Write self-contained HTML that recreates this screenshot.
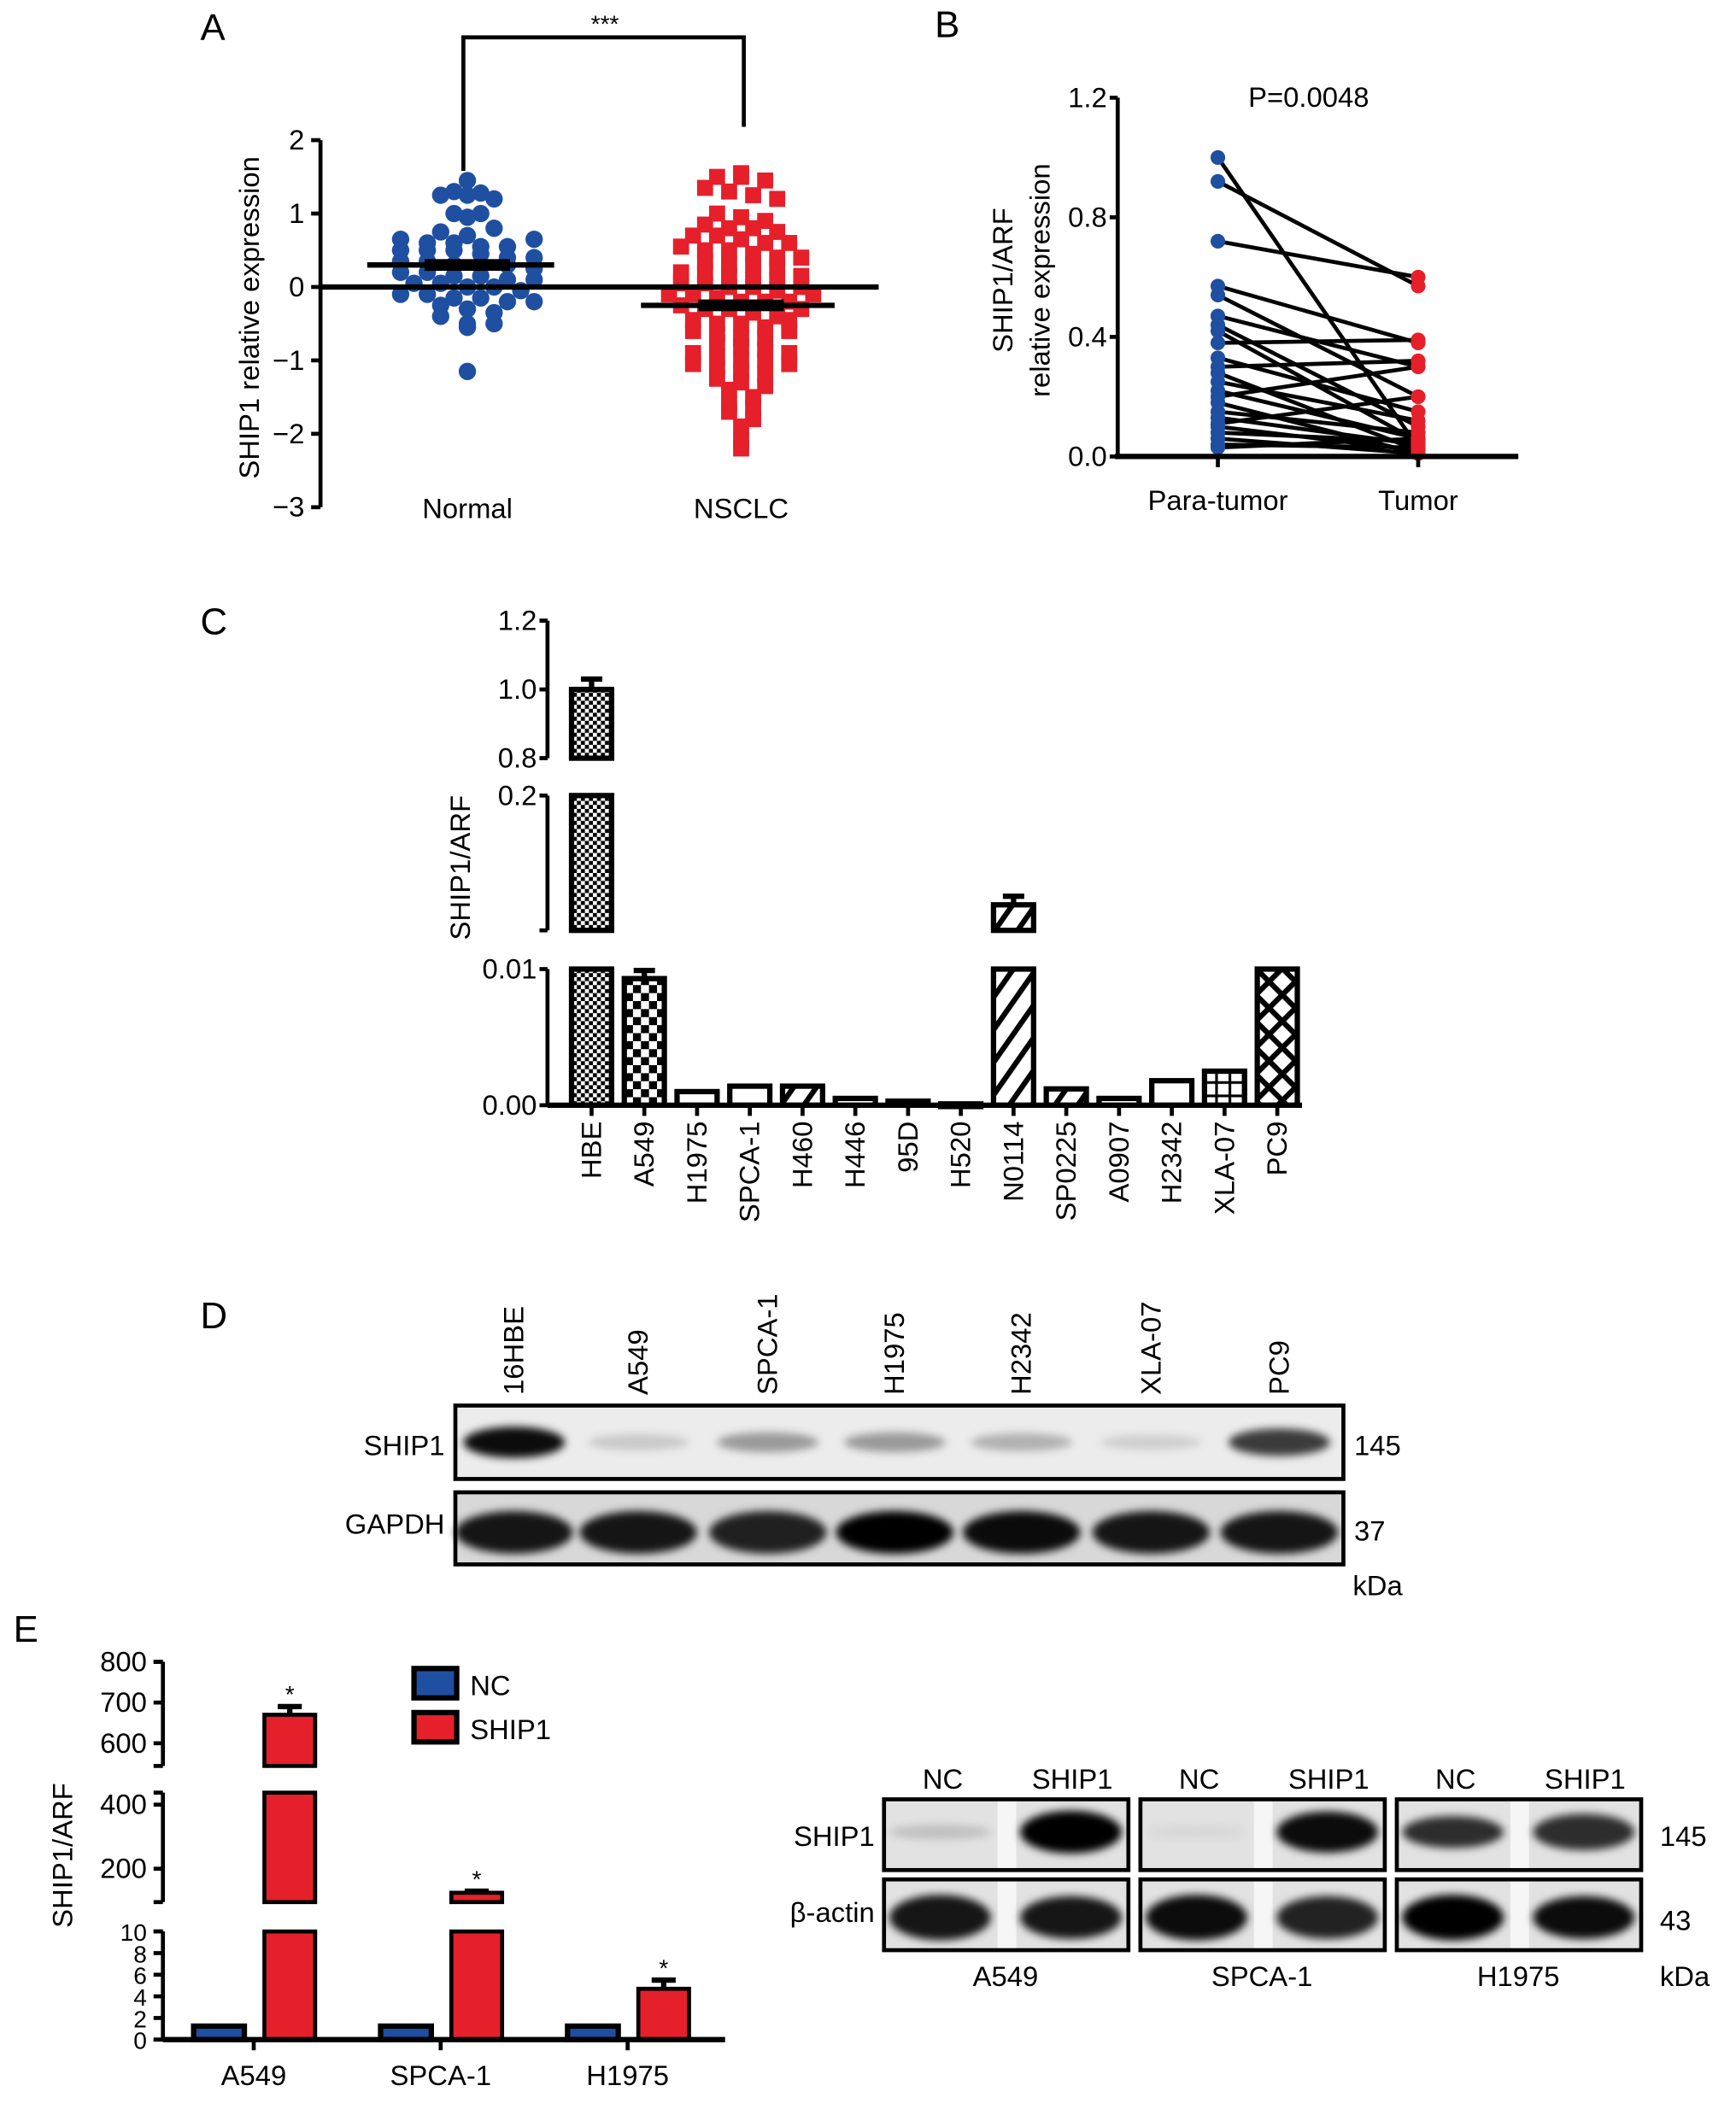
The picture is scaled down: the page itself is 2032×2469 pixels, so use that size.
<!DOCTYPE html>
<html><head><meta charset="utf-8"><style>
html,body{margin:0;padding:0;background:#fff;}
svg{display:block;font-family:"Liberation Sans",Arial,sans-serif;}
</style></head><body>
<svg id="fig" xmlns="http://www.w3.org/2000/svg" width="2032" height="2469" viewBox="0 0 1300 1580" preserveAspectRatio="none">
<defs>
<filter id="blur2" x="-30%" y="-60%" width="160%" height="220%"><feGaussianBlur stdDeviation="3"/></filter>
<pattern id="pFine" width="6" height="6" patternUnits="userSpaceOnUse"><rect width="6" height="6" fill="#fff"/><rect width="3" height="3" fill="#000"/><rect x="3" y="3" width="3" height="3" fill="#000"/></pattern>
<pattern id="pCheck" width="12" height="12" patternUnits="userSpaceOnUse"><rect width="12" height="12" fill="#fff"/><rect width="6" height="6" fill="#000"/><rect x="6" y="6" width="6" height="6" fill="#000"/></pattern>
<pattern id="pDiag" width="14" height="14" patternUnits="userSpaceOnUse" patternTransform="rotate(35)"><rect width="14" height="14" fill="#fff"/><rect width="4" height="14" fill="#000"/></pattern>
<pattern id="pCross" width="14" height="14" patternUnits="userSpaceOnUse" patternTransform="rotate(45)"><rect width="14" height="14" fill="#fff"/><rect width="4" height="14" fill="#000"/><rect width="14" height="4" fill="#000"/></pattern>
<pattern id="pGrid" width="10" height="10" patternUnits="userSpaceOnUse"><rect width="10" height="10" fill="#fff"/><rect width="2" height="10" fill="#000"/><rect width="10" height="2" fill="#000"/></pattern>
</defs>
<g id="gA"></g>
<g id="gB"></g>
<g id="gC"></g>
<g id="gD"></g>
<g id="gE"></g>
</svg>
<script>
// ---------- Panel A data ----------
const aGroups = ["Normal","NSCLC"];
const aTicks = [2,1,0,-1,-2,-3];
const aNormal = [1.45,1.3,1.25,1.25,1.28,1.2,1.0,1.0,0.95,0.75,0.7,0.65,0.6,0.6,0.55,0.55,0.5,0.5,0.5,0.45,0.4,0.4,0.35,0.35,0.3,0.3,0.3,0.25,0.2,0.2,0.15,0.15,0.1,0.1,0.05,0.05,0,0,-0.05,-0.1,-0.1,-0.15,-0.15,-0.2,-0.2,-0.25,-0.3,-0.35,-0.4,-0.5,-0.55,-0.5,-1.15,0.8,0.65];
const aNSCLC = [1.55,1.5,1.5,1.45,1.35,1.3,1.25,1.2,1.0,0.95,0.9,0.85,0.8,0.8,0.75,0.7,0.7,0.65,0.6,0.55,0.5,0.5,0.45,0.4,0.35,0.3,0.3,0.25,0.2,0.2,0.15,0.1,0.1,0.05,0.05,0,0,-0.05,-0.1,-0.1,-0.15,-0.2,-0.2,-0.25,-0.3,-0.3,-0.35,-0.4,-0.45,-0.5,-0.5,-0.55,-0.6,-0.65,-0.7,-0.75,-0.8,-0.85,-0.9,-0.95,-1.0,-1.0,-1.05,-1.1,-1.15,-1.2,-1.25,-1.3,-1.35,-1.4,-1.5,-1.6,-1.65,-1.7,-1.8,-1.9,-2.1,-2.2,0.6,0.4,0.0,-0.2,-0.45,-0.7,-1.05,-0.3,0.15,-0.1,-0.6,-0.9];
const aMeans = [0.3,-0.25];
const aSem = [0.08,0.08];
// ---------- Panel B data ----------
const bGroups = ["Para-tumor","Tumor"];
const bTicks = [0,0.4,0.8,1.2];
const bPara  = [1.0,0.92,0.72,0.57,0.54,0.47,0.44,0.42,0.38,0.33,0.30,0.28,0.25,0.22,0.20,0.18,0.15,0.13,0.11,0.10,0.08,0.06,0.04,0.03];
const bTumor = [0.03,0.57,0.60,0.38,0.20,0.30,0.10,0.05,0.39,0.15,0.32,0.02,0.12,0.06,0.30,0.01,0.08,0.04,0.20,0.02,0.05,0.01,0.03,0.06];
// ---------- Panel C data ----------
const cCats = ["HBE","A549","H1975","SPCA-1","H460","H446","95D","H520","N0114","SP0225","A0907","H2342","XLA-07","PC9"];
const cVals = [1.0,0.0093,0.001,0.0014,0.0014,0.0005,0.0003,0.0001,0.046,0.0012,0.0005,0.0018,0.0025,0.01];
const cErr  = [0.03,0.0006,0,0,0,0,0,0,0.012,0,0,0,0,0];
const cFills = ["url(#pFine)","url(#pCheck)","#fff","#fff","url(#pDiag)","#fff","#fff","#fff","url(#pDiag)","url(#pDiag)","#fff","#fff","url(#pGrid)","url(#pCross)"];
const cTicksTop = [0.8,1.0,1.2];
const cTicksBot = [0.00,0.01];
// ---------- Panel D data ----------
const dLanes = ["16HBE","A549","SPCA-1","H1975","H2342","XLA-07","PC9"];
const dShip = [0.95,0.15,0.35,0.35,0.25,0.12,0.75];
const dGapdh = [0.9,0.9,0.85,1.0,0.95,0.9,0.9];
// ---------- Panel E data ----------
const eGroups = ["A549","SPCA-1","H1975"];
const eNC = [1,1,1];
const eSHIP = [670,125,4.7];
const eErr = [20,5,0.8];
const eTicksTop = [600,700,800];
const eTicksMid = [200,400];
const eTicksBot = [0,2,4,6,8,10];
const eBlotNC = [[0.15,0.9],[0.05,0.95],[0.8,1.0]];
const eBlotSH = [[1.0,0.9],[0.95,0.85],[0.8,0.95]];

const NS="http://www.w3.org/2000/svg";
function mk(parent,tag,attrs,text){const e=document.createElementNS(NS,tag);for(const k in attrs)e.setAttribute(k,attrs[k]);if(text!==undefined)e.textContent=text;parent.appendChild(e);return e;}
const FS=21;

// ================= Panel A =================
(function(){
const g=document.getElementById('gA');
const y=v=>215-v*55;
const xg=[350,555];
let t=mk(g,'text',{x:150,y:30,'font-size':28},'A');

let ax=mk(g,'line',{x1:240,y1:y(2),x2:240,y2:y(-3),stroke:'#000','stroke-width':3});

aTicks.forEach(v=>{
 let l=mk(g,'line',{x1:233,x2:240,y1:y(v),y2:y(v),stroke:'#000','stroke-width':3});
 
 let tx=mk(g,'text',{x:228,y:y(v)+7,'font-size':FS,'text-anchor':'end'},v<0?'\u2212'+(-v):String(v));
 
});
let yl=mk(g,'text',{x:0,y:0,'font-size':FS,'text-anchor':'middle',transform:'translate(194,238) rotate(-90)'},'SHIP1 relative expression');

function swarm(vals,cx,step,bin,draw){
 const counts={};
 vals.forEach(v=>{const b=Math.round(v/bin);counts[b]=(counts[b]||0)+1;});
 const used={};
 vals.forEach(v=>{const b=Math.round(v/bin);const k=used[b]||0;used[b]=k+1;const n=counts[b];
  const off=(k-(n-1)/2)*step; draw(cx+off,y(v));});
}
swarm(aNormal,xg[0],20,0.15,(px,py)=>{let c=mk(g,'circle',{cx:px,cy:py,r:6.5,fill:'#1f4fa0'});});
swarm(aNSCLC,xg[1],18,0.16,(px,py)=>{let r=mk(g,'rect',{x:px-6,y:py-6,width:12,height:12,fill:'#e5202a'});});
let z=mk(g,'line',{x1:240,x2:658,y1:y(0),y2:y(0),stroke:'#000','stroke-width':4});

[[275,415],[480,625]].forEach((r,i)=>{
 let m=mk(g,'line',{x1:r[0],x2:r[1],y1:y(aMeans[i]),y2:y(aMeans[i]),stroke:'#000','stroke-width':4});
 
 let s=mk(g,'rect',{x:xg[i]-32,y:y(aMeans[i]+aSem[i]),width:64,height:y(aMeans[i]-aSem[i])-y(aMeans[i]+aSem[i]),fill:'#000'});
 
 let lb=mk(g,'text',{x:xg[i],y:388,'font-size':FS,'text-anchor':'middle'},aGroups[i]);
 
});
let br=mk(g,'path',{d:'M347 128 V28 H557 V95',fill:'none',stroke:'#000','stroke-width':3});

let st=mk(g,'text',{x:453,y:24,'font-size':18,'text-anchor':'middle'},'***');

})();

// ================= Panel B =================
(function(){
const g=document.getElementById('gB');
const y=v=>342-v*224;
const xg=[912,1062];
let t=mk(g,'text',{x:700,y:28,'font-size':28},'B');

for(let i=0;i<bPara.length;i++){
 let l=mk(g,'line',{x1:xg[0],y1:y(bPara[i]),x2:xg[1],y2:y(bTumor[i]),stroke:'#000','stroke-width':3});
 
}
bPara.forEach(v=>{let c=mk(g,'circle',{cx:xg[0],cy:y(v),r:5.5,fill:'#1f4fa0'});});
bTumor.forEach(v=>{let c=mk(g,'circle',{cx:xg[1],cy:y(v),r:5.5,fill:'#e5202a'});});
let ax=mk(g,'line',{x1:837,y1:y(1.2),x2:837,y2:y(0),stroke:'#000','stroke-width':3});

let xa=mk(g,'line',{x1:835,y1:y(0),x2:1137,y2:y(0),stroke:'#000','stroke-width':4});

bTicks.forEach(v=>{
 let l=mk(g,'line',{x1:831,x2:837,y1:y(v),y2:y(v),stroke:'#000','stroke-width':3});
 
 let tx=mk(g,'text',{x:829,y:y(v)+7,'font-size':FS,'text-anchor':'end'},v.toFixed(1));
 
});
xg.forEach((x,i)=>{
 let l=mk(g,'line',{x1:x,x2:x,y1:y(0),y2:y(0)+8,stroke:'#000','stroke-width':3});
 
 let tx=mk(g,'text',{x:x,y:382,'font-size':FS,'text-anchor':'middle'},bGroups[i]);
 
});
let p=mk(g,'text',{x:980,y:80,'font-size':FS,'text-anchor':'middle'},'P=0.0048');

let y1=mk(g,'text',{x:0,y:0,'font-size':FS,'text-anchor':'middle',transform:'translate(758,210) rotate(-90)'},'SHIP1/ARF');

let y2=mk(g,'text',{x:0,y:0,'font-size':FS,'text-anchor':'middle',transform:'translate(786,210) rotate(-90)'},'relative expression');

})();

// ================= Panel C =================
(function(){
const g=document.getElementById('gC');
const AX=410, Y0=828;
function yv(v){
 if(v>=0.8) return 568-(v-0.8)/0.4*103;
 if(v>0.01) return 697-(Math.min(v,0.2)-0.01)/0.19*101;
 return Y0-v/0.01*102;
}
const xs=i=>443+i*39.5;
let t=mk(g,'text',{x:150,y:475,'font-size':28},'C');

cCats.forEach((c,i)=>{
 const v=cVals[i],x=xs(i)-15,w=30;
 const segs=[];
 if(v>=0.8){segs.push([yv(v),568],[596,697],[726,Y0]);}
 else if(v>0.01){segs.push([yv(v),697],[726,Y0]);}
 else segs.push([yv(v),Y0]);
 segs.forEach(s=>{
  let r=mk(g,'rect',{x:x,y:s[0],width:w,height:Math.max(s[1]-s[0],2),fill:cFills[i],stroke:'#000','stroke-width':4});
  
 });
 if(cErr[i]>0){
  const ye=yv(v+cErr[i]);
  let e=mk(g,'path',{d:`M${xs(i)} ${yv(v)} V${ye} M${xs(i)-8} ${ye} H${xs(i)+8}`,stroke:'#000','stroke-width':4,fill:'none'});
  
 }
 let l=mk(g,'line',{x1:xs(i),x2:xs(i),y1:Y0,y2:Y0+8,stroke:'#000','stroke-width':3});
 
 let tx=mk(g,'text',{x:0,y:0,'font-size':FS,'text-anchor':'end',transform:`translate(${xs(i)+7},${Y0+12}) rotate(-90)`},c);
 
});
[[465,568],[596,697],[726,Y0]].forEach(s=>{
 let a=mk(g,'line',{x1:AX,x2:AX,y1:s[0],y2:s[1],stroke:'#000','stroke-width':3});
 
 [s[0],s[1]].forEach(yy=>{let tk=mk(g,'line',{x1:AX-6,x2:AX,y1:yy,y2:yy,stroke:'#000','stroke-width':3});});
});
cTicksTop.forEach(v=>{let tx=mk(g,'text',{x:AX-8,y:yv(v)+7,'font-size':FS,'text-anchor':'end'},v.toFixed(1));
 let tk=mk(g,'line',{x1:AX-6,x2:AX,y1:yv(v),y2:yv(v),stroke:'#000','stroke-width':3});});
let t02=mk(g,'text',{x:AX-8,y:603,'font-size':FS,'text-anchor':'end'},'0.2');

cTicksBot.forEach(v=>{let tx=mk(g,'text',{x:AX-8,y:yv(v)+7,'font-size':FS,'text-anchor':'end'},v.toFixed(2));});
let xa=mk(g,'line',{x1:AX,x2:975,y1:Y0,y2:Y0,stroke:'#000','stroke-width':4});

let yl=mk(g,'text',{x:0,y:0,'font-size':FS,'text-anchor':'middle',transform:'translate(352,650) rotate(-90)'},'SHIP1/ARF');

})();

// ================= Panel D =================
(function(){
const g=document.getElementById('gD');
let t=mk(g,'text',{x:150,y:995,'font-size':28},'D');

const lx=[385,478,575,670,765,862,958];
[[1053,1108],[1118,1172]].forEach((b,bi)=>{
 let bg=mk(g,'rect',{x:341,y:b[0],width:665,height:b[1]-b[0],fill:bi?'#d8d8d8':'#ececec'});
 
 dLanes.forEach((n,i)=>{
  const it=bi?dGapdh[i]:dShip[i];
  const cy=(b[0]+b[1])/2+(bi?3:0);
  let e=mk(g,'ellipse',{cx:lx[i],cy:cy,rx:bi?44:38,ry:bi?16:(5+7*it),fill:'#000','fill-opacity':it,filter:'url(#blur2)'});
  
 });
 let fr=mk(g,'rect',{x:341,y:b[0],width:665,height:b[1]-b[0],fill:'none',stroke:'#000','stroke-width':3});
 
});
dLanes.forEach((n,i)=>{let tx=mk(g,'text',{x:0,y:0,'font-size':FS,'text-anchor':'start',transform:`translate(${lx[i]+7},1045) rotate(-90)`},n);});
[['SHIP1',333,1090],['GAPDH',333,1149]].forEach(a=>{let tx=mk(g,'text',{x:a[1],y:a[2],'font-size':FS,'text-anchor':'end'},a[0]);});
[['145',1014,1090],['37',1014,1154],['kDa',1013,1195]].forEach(a=>{let tx=mk(g,'text',{x:a[1],y:a[2],'font-size':FS},a[0]);});
})();

// ================= Panel E =================
(function(){
const g=document.getElementById('gE');
const AX=122,Y0=1528;
function yv(v){
 if(v>=550) return 1306-(v-600)/100*30.5;
 if(v>10) return 1400-(Math.min(v,450)-200)/200*48;
 return Y0-v/10*81;
}
let t=mk(g,'text',{x:10,y:1230,'font-size':28},'E');

const gx=[190,330,470];
eGroups.forEach((n,i)=>{
 let nb=mk(g,'rect',{x:gx[i]-45,y:yv(eNC[i])-2,width:38,height:Y0-yv(eNC[i])+2,fill:'#1f4fa0',stroke:'#000','stroke-width':4});
 
 const v=eSHIP[i];const segs=[];
 if(v>=550)segs.push([yv(v),1323],[1343,1425],[1447,Y0]);
 else if(v>10)segs.push([yv(v),1425],[1447,Y0]);
 else segs.push([yv(v),Y0]);
 segs.forEach(s=>{let r=mk(g,'rect',{x:gx[i]+8,y:s[0],width:38,height:s[1]-s[0],fill:'#e5202a',stroke:'#000','stroke-width':3});});
 const ye=yv(v+eErr[i]);const cx=gx[i]+27;
 let e=mk(g,'path',{d:`M${cx} ${yv(v)} V${ye} M${cx-9} ${ye} H${cx+9}`,stroke:'#000','stroke-width':4,fill:'none'});
 
 let s=mk(g,'text',{x:cx,y:ye-3,'font-size':18,'text-anchor':'middle'},'*');
 
 let l=mk(g,'line',{x1:gx[i],x2:gx[i],y1:Y0,y2:Y0+8,stroke:'#000','stroke-width':3});
 
 let tx=mk(g,'text',{x:gx[i],y:1562,'font-size':FS,'text-anchor':'middle'},n);
 
});
[[1245,1323],[1343,1425],[1447,Y0]].forEach(s=>{
 let a=mk(g,'line',{x1:AX,x2:AX,y1:s[0],y2:s[1],stroke:'#000','stroke-width':3});
 
 [s[0],s[1]].forEach(yy=>{let tk=mk(g,'line',{x1:AX-7,x2:AX,y1:yy,y2:yy,stroke:'#000','stroke-width':3});});
});
eTicksTop.concat(eTicksMid,eTicksBot).forEach(v=>{
 let tk=mk(g,'line',{x1:AX-7,x2:AX,y1:yv(v),y2:yv(v),stroke:'#000','stroke-width':3});
 let tx=mk(g,'text',{x:AX-12,y:yv(v)+7,'font-size':v<=10?18:FS,'text-anchor':'end'},String(v));
 
});
let xa=mk(g,'line',{x1:AX,x2:543,y1:Y0,y2:Y0,stroke:'#000','stroke-width':4});

let yl=mk(g,'text',{x:0,y:0,'font-size':FS,'text-anchor':'middle',transform:'translate(54,1390) rotate(-90)'},'SHIP1/ARF');

let l1=mk(g,'rect',{x:310,y:1250,width:32,height:22,fill:'#1f4fa0',stroke:'#000','stroke-width':4});

let l2=mk(g,'rect',{x:310,y:1283,width:32,height:22,fill:'#e5202a',stroke:'#000','stroke-width':4});

let t1=mk(g,'text',{x:352,y:1270,'font-size':FS},'NC');
let t2=mk(g,'text',{x:352,y:1303,'font-size':FS},'SHIP1');
const bx=[662,854,1046];
eGroups.forEach((n,i)=>{
 [[1348,1401],[1408,1461]].forEach((b,bi)=>{
  let bg=mk(g,'rect',{x:bx[i],y:b[0],width:183,height:b[1]-b[0],fill:'#e2e2e2'});
  
  let gap=mk(g,'rect',{x:bx[i]+85,y:b[0],width:14,height:b[1]-b[0],fill:'#f6f6f6'});
  
  const ncI=eBlotNC[i][bi], shI=eBlotSH[i][bi];
  const cy=(b[0]+b[1])/2+(bi?2:-2);
  let e1=mk(g,'ellipse',{cx:bx[i]+42,cy:cy,rx:38,ry:bi?17:(4+10*ncI),fill:'#000','fill-opacity':ncI,filter:'url(#blur2)'});
  
  let e2=mk(g,'ellipse',{cx:bx[i]+140,cy:cy,rx:38,ry:bi?16:(4+12*shI),fill:'#000','fill-opacity':shI,filter:'url(#blur2)'});
  
  let fr=mk(g,'rect',{x:bx[i],y:b[0],width:183,height:b[1]-b[0],fill:'none',stroke:'#000','stroke-width':3});
  
 });
 let a=mk(g,'text',{x:bx[i]+44,y:1340,'font-size':FS,'text-anchor':'middle'},'NC');
 let b2=mk(g,'text',{x:bx[i]+141,y:1340,'font-size':FS,'text-anchor':'middle'},'SHIP1');
 let c=mk(g,'text',{x:bx[i]+91,y:1488,'font-size':FS,'text-anchor':'middle'},n);
});
[['SHIP1',655,1383],['\u03b2-actin',655,1440]].forEach(a=>{let tx=mk(g,'text',{x:a[1],y:a[2],'font-size':FS,'text-anchor':'end'},a[0]);});
[['145',1243,1383],['43',1243,1446],['kDa',1243,1488]].forEach(a=>{let tx=mk(g,'text',{x:a[1],y:a[2],'font-size':FS},a[0]);});
})();
</script>
</body></html>
